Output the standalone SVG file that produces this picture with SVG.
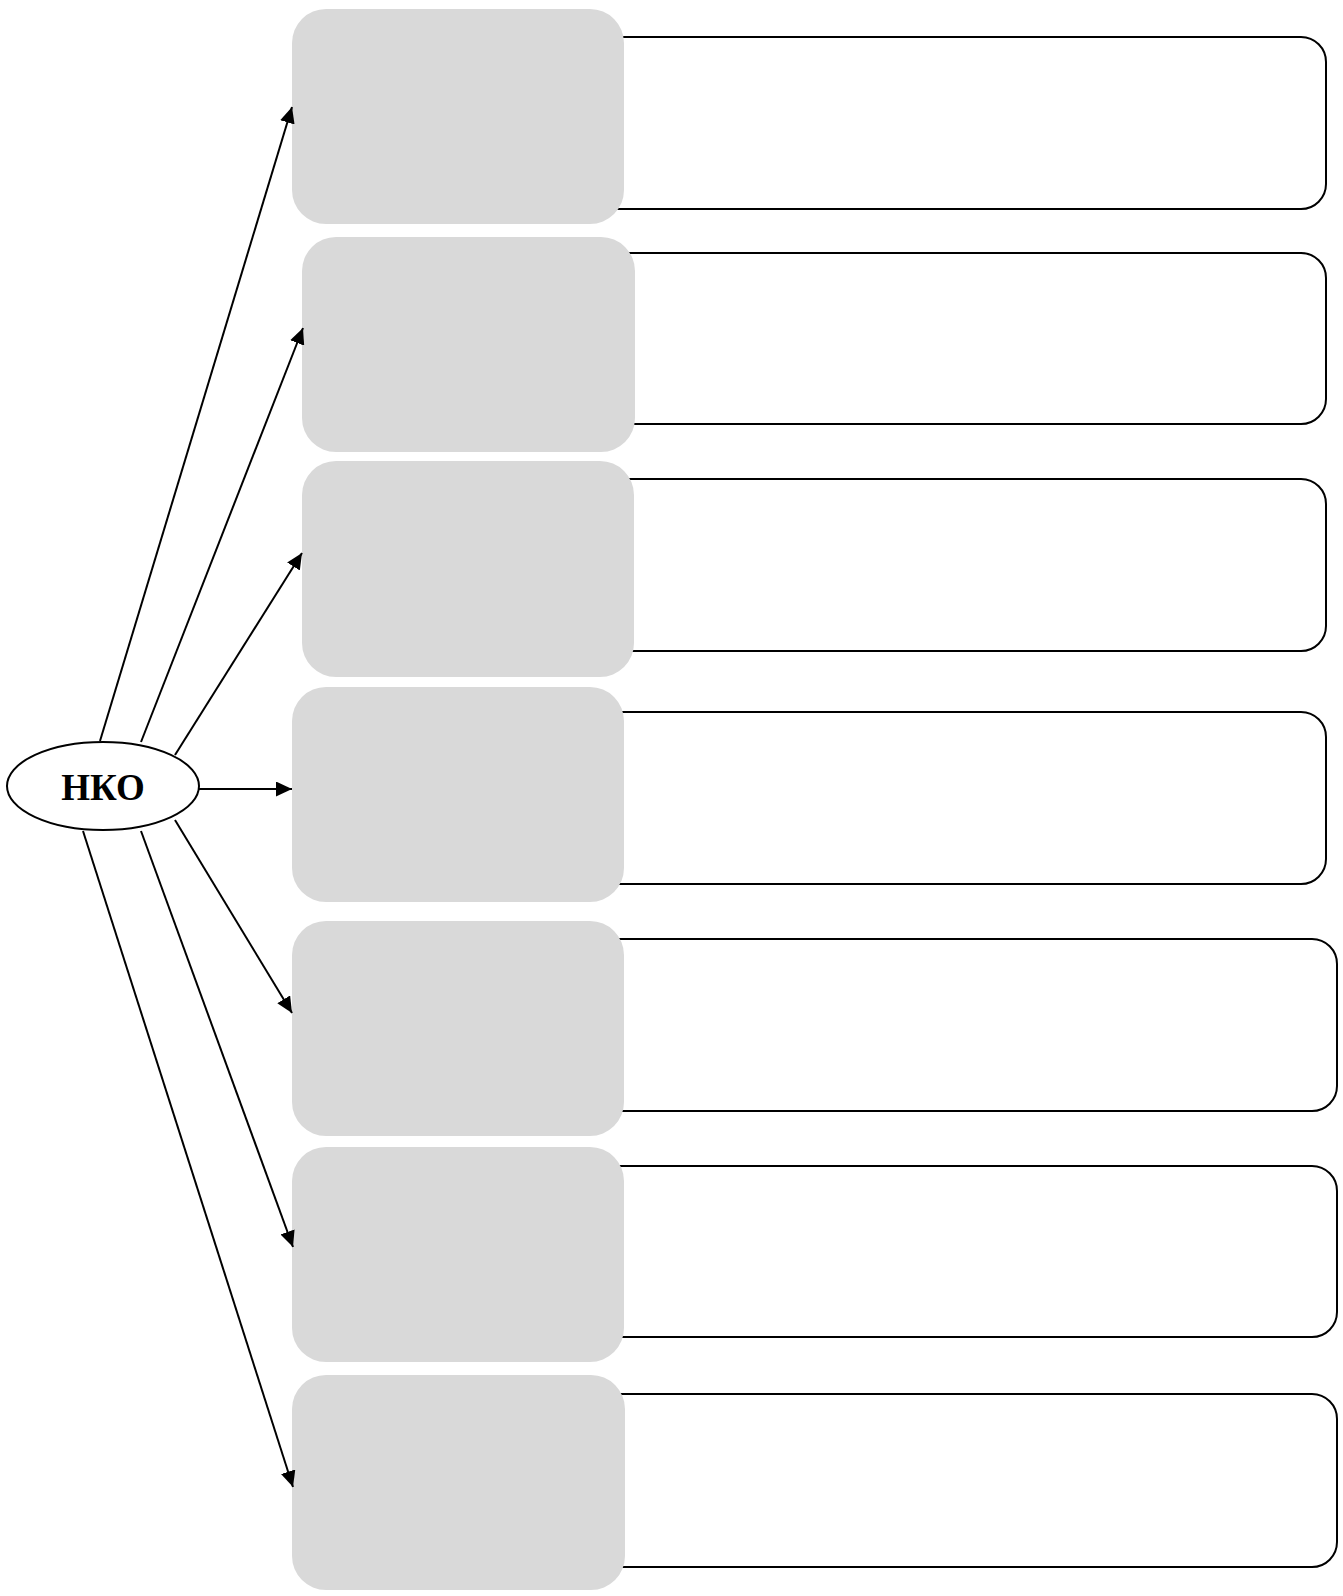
<svg xmlns="http://www.w3.org/2000/svg" width="1343" height="1596" viewBox="0 0 1343 1596">
<style>
.out{fill:#fff;stroke:#000;stroke-width:2}
.in{fill:#d9d9d9;stroke:none}
.c line{stroke:#000;stroke-width:2;marker-end:url(#ah)}
.lbl{font-family:"Liberation Serif","Times New Roman",serif;font-weight:bold;font-size:37px;text-anchor:middle}
</style>
<defs>
<marker id="ah" viewBox="0 0 10 10" refX="10" refY="5" markerWidth="8" markerHeight="7.5" markerUnits="strokeWidth" orient="auto" preserveAspectRatio="none">
<path d="M0,0 L10,5 L0,10 z" fill="#000"/>
</marker>
</defs>
<rect width="1343" height="1596" fill="#fff"/>
<g id="row1"><rect class="out" x="520" y="37" width="806" height="172" rx="25"/><rect class="in" x="292" y="9" width="332" height="215" rx="34"/></g>
<g id="row2"><rect class="out" x="520" y="253" width="806" height="171" rx="25"/><rect class="in" x="302" y="237" width="333" height="215" rx="34"/></g>
<g id="row3"><rect class="out" x="520" y="479" width="806" height="172" rx="25"/><rect class="in" x="302" y="461" width="332" height="216" rx="34"/></g>
<g id="row4"><rect class="out" x="520" y="712" width="806" height="172" rx="25"/><rect class="in" x="292" y="687" width="332" height="215" rx="34"/></g>
<g id="row5"><rect class="out" x="520" y="939" width="817" height="172" rx="25"/><rect class="in" x="292" y="921" width="332" height="215" rx="34"/></g>
<g id="row6"><rect class="out" x="520" y="1166" width="817" height="171" rx="25"/><rect class="in" x="292" y="1147" width="332" height="215" rx="34"/></g>
<g id="row7"><rect class="out" x="520" y="1394" width="817" height="173" rx="25"/><rect class="in" x="292" y="1375" width="333" height="215" rx="34"/></g>
<g id="connectors" class="c">
<line x1="100" y1="741" x2="292" y2="107"/>
<line x1="141" y1="742" x2="303" y2="328"/>
<line x1="175" y1="755" x2="302" y2="553"/>
<line x1="198" y1="789" x2="292" y2="789"/>
<line x1="175" y1="820" x2="292" y2="1013"/>
<line x1="141" y1="831" x2="293" y2="1247"/>
<line x1="83" y1="831" x2="293" y2="1487"/>
</g>
<g id="nko">
<ellipse cx="103" cy="786" rx="96" ry="44" fill="#fff" stroke="#000" stroke-width="2"/>
<text class="lbl" x="103" y="800">НКО</text>
</g>
</svg>
